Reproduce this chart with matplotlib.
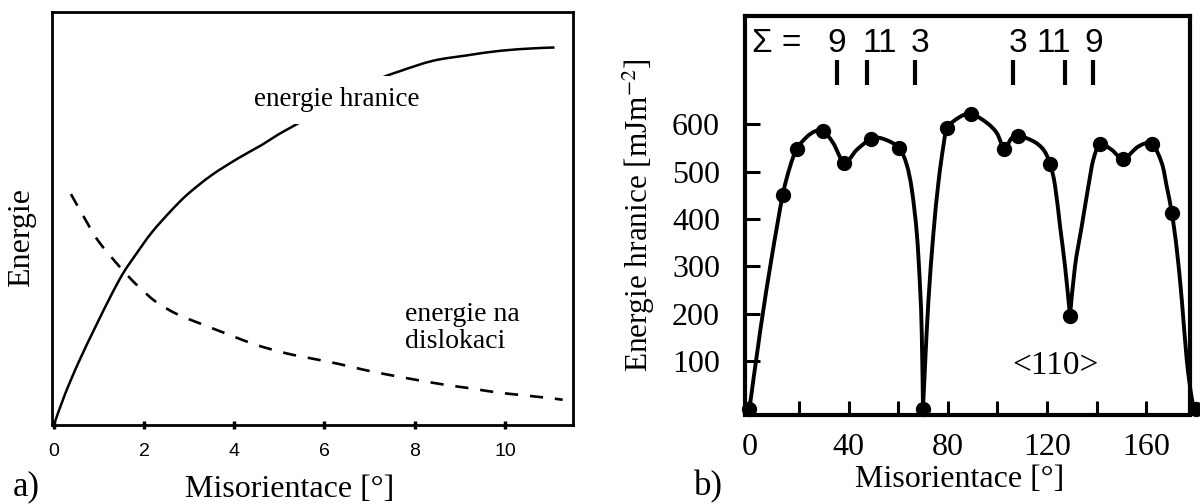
import matplotlib
matplotlib.use("Agg")
import numpy as np
import matplotlib.pyplot as plt
import matplotlib.transforms as mtransforms
from matplotlib.path import Path
from matplotlib.patches import PathPatch

plt.rcParams['font.family'] = 'Liberation Sans'
plt.rcParams['mathtext.fontset'] = 'stix'
SERIF = 'Liberation Serif'
SANS = 'Liberation Sans'

# ---------------- Panel a) data (relative energy vs misorientation) ----------------
a_xticks = [0, 2, 4, 6, 8, 10]
boundary_misor = [0, 0.25, 0.55, 0.92, 1.28, 1.54, 1.80, 2.17, 2.61, 2.98, 3.50, 4.09,
                  4.61, 4.97, 5.38, 6.30, 7.20, 7.68, 8.41, 9.16, 9.89, 10.63, 11.10]
boundary_energy = [0, 0.075, 0.152, 0.237, 0.316, 0.368, 0.41, 0.466, 0.52, 0.56, 0.605, 0.646,
                   0.678, 0.703, 0.728, 0.785, 0.837, 0.857, 0.882, 0.895, 0.906, 0.912, 0.914]
disloc_misor = [0.38, 0.66, 0.99, 1.51, 1.86, 2.28, 2.76, 3.31, 3.90, 4.46, 5.06, 5.53,
                6.27, 6.86, 7.45, 8.05, 8.64, 9.22, 9.82, 10.41, 11.08, 11.28]
disloc_energy = [0.559, 0.505, 0.445, 0.377, 0.337, 0.297, 0.267, 0.243, 0.218, 0.195, 0.176, 0.165,
                 0.149, 0.134, 0.121, 0.109, 0.098, 0.089, 0.079, 0.072, 0.064, 0.061]

# ---------------- Panel b) data (<110> tilt boundaries) ----------------
b_angle = [0, 13.4, 19.1, 29.8, 38.3, 49.1, 60.3, 70.0, 79.8, 89.3, 102.8, 108.2,
           121.3, 129.3, 141.4, 150.8, 162.3, 170.4, 180]
b_energy = [0, 450, 548, 586, 519, 569, 550, 0, 592, 622, 548, 576,
            516, 196, 558, 527, 559, 412, 0]
b_fit_angle = [0, 4.5, 9.0, 13.4, 16.4, 19.1, 23.1, 26.5, 29.8, 33.8, 38.3, 43.3, 49.1, 54.0,
               60.3, 63.4, 65.5, 67.5, 68.8, 69.5, 70.0,
               70.8, 72.2, 74.2, 76.2, 78.2, 79.8, 84.5, 89.3, 95.7, 99.8, 102.8, 105.5, 108.2,
               114.5, 118.6, 121.3, 123.3, 125.3, 127.3, 129.3,
               131.3, 134.0, 136.7, 138.7, 141.4, 146.1, 150.8, 156.9, 162.3, 166.3, 168.3,
               170.4, 172.4, 174.4, 176.4, 178.5, 180]
b_fit_energy = [0, 170, 320, 450, 511, 548, 573, 585, 586, 560, 519, 546, 569, 569,
                550, 515, 462, 370, 258, 159, 0,
                88, 229, 370, 476, 553, 592, 614, 622, 603, 581, 548, 569, 576,
                564, 546, 516, 469, 384, 300, 196,
                300, 384, 469, 525, 558, 546, 527, 553, 559, 518, 469,
                412, 335, 229, 103, 20, 0]
b_cusp_angles = [0, 70.0, 129.3, 180]
b_xticks = [0, 20, 40, 60, 80, 100, 120, 140, 160]
b_xticklabels = ['0', '', '40', '', '80', '', '120', '', '160']
b_yticks = [100, 200, 300, 400, 500, 600]
sigma_labels = ['9', '11', '3', '3', '11', '9']
sigma_angles = [35.2, 47.3, 66.8, 106.5, 127.3, 138.7]


def smooth_path(xs, ys, break_x=None):
    """Catmull-Rom curve through the given points, drawn as cubic Bezier path;
    sharp corners are kept at the break points."""
    xs = np.asarray(xs, float)
    ys = np.asarray(ys, float)
    idx = [0, len(xs) - 1]
    if break_x is not None:
        idx = sorted(set([int(np.argmin(np.abs(xs - b))) for b in break_x] + idx))
    verts, codes = [], []
    for s, e in zip(idx[:-1], idx[1:]):
        P = np.column_stack([xs[s:e + 1], ys[s:e + 1]])
        n = len(P)
        if not verts:
            verts.append(P[0])
            codes.append(Path.MOVETO)
        for i in range(n - 1):
            p0 = P[i - 1] if i > 0 else P[i]
            p1, p2 = P[i], P[i + 1]
            p3 = P[i + 2] if i + 2 < n else P[i + 1]
            verts += [p1 + (p2 - p0) / 6.0, p2 - (p3 - p1) / 6.0, p2]
            codes += [Path.CURVE4] * 3
    return Path(verts, codes)


fig = plt.figure(figsize=(12, 5.04), dpi=100)
W, H = 1200, 504

# ---------------- Panel a ----------------
axa = fig.add_axes([52 / W, (H - 425) / H, 521 / W, 413 / H])
axa.add_patch(PathPatch(smooth_path(boundary_misor, boundary_energy), fill=False,
                        ec='black', lw=1.8))
axa.add_patch(PathPatch(smooth_path(disloc_misor, disloc_energy), fill=False,
                        ec='black', lw=1.9, linestyle=(0, (5, 4.5))))
axa.set_xlim(-0.04, 11.51)
axa.set_ylim(0, 1)
axa.set_yticks([])
axa.set_xticks(a_xticks)
axa.tick_params(axis='x', direction='inout', length=6, width=2.5, pad=10, labelsize=14)
for lab in axa.get_xticklabels():
    lab.set_fontfamily(SANS)
for sp in axa.spines.values():
    sp.set_linewidth(2.0)
axa.text(6.27, 0.787, 'energie hranice', ha='center', va='center', fontsize=19.5,
         family=SERIF, bbox=dict(boxstyle='square,pad=0.42', fc='white', ec='none'))
axa.text(7.79, 0.235, 'energie na\ndislokaci', ha='left', va='center', fontsize=20,
         family=SERIF, linespacing=1.1)
axa.set_xlabel('Misorientace [°]', fontsize=23, family=SERIF)
axa.xaxis.set_label_coords(0.457, -0.157)
axa.xaxis.label.set_va('center')
axa.set_ylabel('Energie', fontsize=23, family=SERIF)
axa.yaxis.set_label_coords(-0.0576, 0.453)
axa.yaxis.label.set_va('center')
fig.text(26 / W, (H - 487) / H, 'a)', fontsize=25, family=SERIF, ha='center', va='center')

# ---------------- Panel b ----------------
axb = fig.add_axes([745 / W, (H - 414.5) / H, 445 / W, 398.5 / H])
axb.add_patch(PathPatch(smooth_path(b_fit_angle, b_fit_energy, b_cusp_angles), fill=False,
                        ec='black', lw=2.8, clip_on=False, joinstyle='round'))
axb.plot(b_angle, b_energy, 'o', color='black', ms=10, clip_on=False, zorder=3)
axb.set_xlim(-1.8, 177.7)
axb.set_ylim(-12, 828)
axb.set_xticks(b_xticks)
axb.set_xticklabels(b_xticklabels)
axb.set_yticks(b_yticks)
axb.tick_params(axis='x', direction='in', length=10, width=2.2, pad=13, labelsize=23)
axb.tick_params(axis='y', direction='in', length=11, width=2.2, pad=18, labelsize=23)
for lab in axb.get_xticklabels() + axb.get_yticklabels():
    lab.set_fontfamily(SERIF)
for sp in axb.spines.values():
    sp.set_linewidth(3.0)

blend = mtransforms.blended_transform_factory(axb.transData, axb.transAxes)
axb.text(0.0157, 0.932, 'Σ =', transform=axb.transAxes, ha='left', va='center',
         fontsize=24, family=SANS)
label_dx = [0, 9.6, 3.6, 3.4, -8.4, 0.5]
for lab, ang, dx in zip(sigma_labels, sigma_angles, label_dx):
    axb.vlines(ang, 683, 736, color='black', lw=3)
    axb.annotate(lab, xy=(ang, 0.932), xycoords=blend, xytext=(dx, 0),
                 textcoords='offset points', ha='center', va='center',
                 fontsize=24, family=SANS)
axb.text(123.3, 90, '<110>', ha='center', va='center', fontsize=24, family=SERIF)
axb.set_xlabel('Misorientace [°]', fontsize=23, family=SERIF)
axb.xaxis.set_label_coords(0.483, -0.164)
axb.xaxis.label.set_va('center')
axb.set_ylabel('Energie hranice [mJm$^{-2}$]', fontsize=22.5, family=SERIF)
axb.yaxis.set_label_coords(-0.238, 0.50)
axb.yaxis.label.set_va('center')
fig.text(708 / W, (H - 487) / H, 'b)', fontsize=25, family=SERIF, ha='center', va='center')

fig.savefig('out.png', dpi=100)
